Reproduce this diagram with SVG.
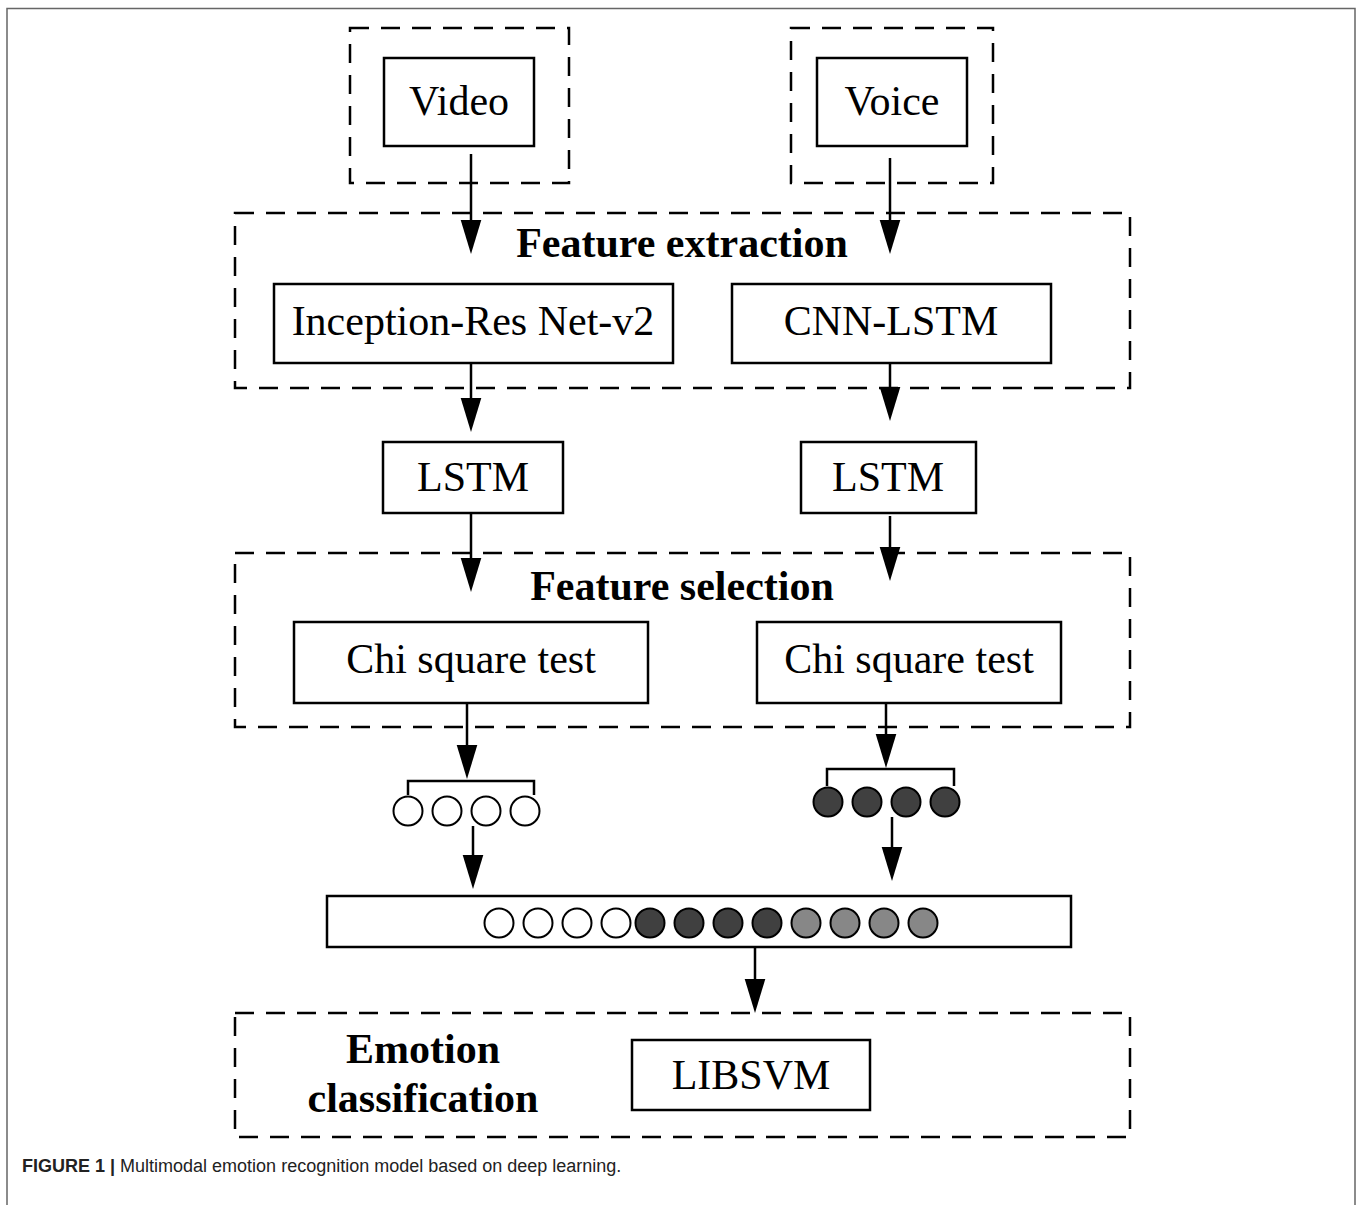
<svg xmlns="http://www.w3.org/2000/svg" width="1358" height="1205" viewBox="0 0 1358 1205">
  <style>
    .box { fill: #ffffff; stroke: #000000; stroke-width: 2.5; }
    .group { fill: none; stroke: #000000; stroke-width: 2.5; stroke-dasharray: 19 12; }
    .lbl { font-family: "Liberation Serif", "Times New Roman", serif; font-size: 42px; fill: #000000; text-anchor: middle; }
    .ttl { font-family: "Liberation Serif", "Times New Roman", serif; font-size: 42px; font-weight: bold; fill: #000000; text-anchor: middle; }
    .wire { fill: none; stroke: #000000; stroke-width: 2.5; }
    .arrow { fill: none; stroke: #000000; stroke-width: 2.5; marker-end: url(#head); }
    .c-white { fill: #ffffff; stroke: #000000; stroke-width: 2; }
    .c-dark { fill: #404040; stroke: #000000; stroke-width: 2; }
    .c-gray { fill: #878787; stroke: #000000; stroke-width: 2; }
    .cap { font-family: "Liberation Sans", Arial, sans-serif; font-size: 18px; fill: #222222; }
  </style>
  <defs>
    <marker id="head" markerUnits="userSpaceOnUse" markerWidth="34" markerHeight="22" viewBox="0 0 33 20" refX="0" refY="10" orient="auto">
      <path d="M0,0 L33,10 L0,20 Z" fill="#000000"/>
    </marker>
  </defs>

  <rect width="1358" height="1205" fill="#ffffff"/>
  <!-- page frame -->
  <path d="M7,1205 V8.5 H1355 V1205" fill="none" stroke="#666666" stroke-width="1.5"/>

  <!-- input sources -->
  <g id="video">
    <rect class="group" x="350" y="28" width="219" height="155"/>
    <rect class="box" x="384" y="58" width="150" height="88"/>
    <text class="lbl" x="459" y="115">Video</text>
  </g>
  <g id="voice">
    <rect class="group" x="791" y="28" width="202" height="155"/>
    <rect class="box" x="817" y="58" width="150" height="88"/>
    <text class="lbl" x="892" y="115">Voice</text>
  </g>

  <!-- feature extraction stage -->
  <g id="feature-extraction">
    <rect class="group" x="235" y="213" width="895" height="175"/>
    <text class="ttl" x="682" y="257">Feature extraction</text>
  </g>
  <g id="inception">
    <rect class="box" x="274" y="284" width="399" height="79"/>
    <text class="lbl" x="473" y="335">Inception-Res Net-v2</text>
  </g>
  <g id="cnn-lstm">
    <rect class="box" x="732" y="284" width="319" height="79"/>
    <text class="lbl" x="891" y="335">CNN-LSTM</text>
  </g>

  <!-- temporal models -->
  <g id="lstm-video">
    <rect class="box" x="383" y="442" width="180" height="71"/>
    <text class="lbl" x="473" y="491">LSTM</text>
  </g>
  <g id="lstm-voice">
    <rect class="box" x="801" y="442" width="175" height="71"/>
    <text class="lbl" x="888" y="491">LSTM</text>
  </g>

  <!-- feature selection stage -->
  <g id="feature-selection">
    <rect class="group" x="235" y="553" width="895" height="174"/>
    <text class="ttl" x="682" y="600">Feature selection</text>
  </g>
  <g id="chi-video">
    <rect class="box" x="294" y="622" width="354" height="81"/>
    <text class="lbl" x="471" y="673">Chi square test</text>
  </g>
  <g id="chi-voice">
    <rect class="box" x="757" y="622" width="304" height="81"/>
    <text class="lbl" x="909" y="673">Chi square test</text>
  </g>

  <!-- selected feature vectors -->
  <g id="features-video">
    <path class="wire" d="M408,795 V781 H534 V795"/>
    <circle class="c-white" cx="408" cy="811" r="14.5"/>
    <circle class="c-white" cx="447" cy="811" r="14.5"/>
    <circle class="c-white" cx="486" cy="811" r="14.5"/>
    <circle class="c-white" cx="525" cy="811" r="14.5"/>
  </g>
  <g id="features-voice">
    <path class="wire" d="M827,786 V769 H954 V786"/>
    <circle class="c-dark" cx="828" cy="802" r="14.5"/>
    <circle class="c-dark" cx="867" cy="802" r="14.5"/>
    <circle class="c-dark" cx="906" cy="802" r="14.5"/>
    <circle class="c-dark" cx="945" cy="802" r="14.5"/>
  </g>

  <!-- fused feature vector -->
  <g id="fusion">
    <rect class="box" x="327" y="896" width="744" height="51"/>
    <circle class="c-white" cx="499" cy="923" r="14.5"/>
    <circle class="c-white" cx="538" cy="923" r="14.5"/>
    <circle class="c-white" cx="577" cy="923" r="14.5"/>
    <circle class="c-white" cx="616" cy="923" r="14.5"/>
    <circle class="c-dark" cx="650" cy="923" r="14.5"/>
    <circle class="c-dark" cx="689" cy="923" r="14.5"/>
    <circle class="c-dark" cx="728" cy="923" r="14.5"/>
    <circle class="c-dark" cx="767" cy="923" r="14.5"/>
    <circle class="c-gray" cx="806" cy="923" r="14.5"/>
    <circle class="c-gray" cx="845" cy="923" r="14.5"/>
    <circle class="c-gray" cx="884" cy="923" r="14.5"/>
    <circle class="c-gray" cx="923" cy="923" r="14.5"/>
  </g>

  <!-- classification stage -->
  <g id="emotion-classification">
    <rect class="group" x="235" y="1013" width="895" height="124"/>
    <text class="ttl" x="423" y="1063">Emotion</text>
    <text class="ttl" x="423" y="1112">classification</text>
  </g>
  <g id="libsvm">
    <rect class="box" x="632" y="1040" width="238" height="70"/>
    <text class="lbl" x="751" y="1089" font-size="41">LIBSVM</text>
  </g>

  <!-- connectors -->
  <g id="connectors">
    <path class="arrow" d="M471,154 V220"/>
    <path class="arrow" d="M890,158 V220"/>
    <path class="arrow" d="M471,363 V398"/>
    <path class="arrow" d="M890,363 V387"/>
    <path class="arrow" d="M471,513 V558"/>
    <path class="arrow" d="M890,516 V547"/>
    <path class="arrow" d="M467,703 V745"/>
    <path class="arrow" d="M886,703 V734"/>
    <path class="arrow" d="M473,826 V855"/>
    <path class="arrow" d="M892,817 V847"/>
    <path class="arrow" d="M755,947 V979"/>
  </g>

  <!-- caption -->
  <text class="cap" x="22" y="1172"><tspan font-weight="bold">FIGURE 1 |</tspan> Multimodal emotion recognition model based on deep learning.</text>
</svg>
